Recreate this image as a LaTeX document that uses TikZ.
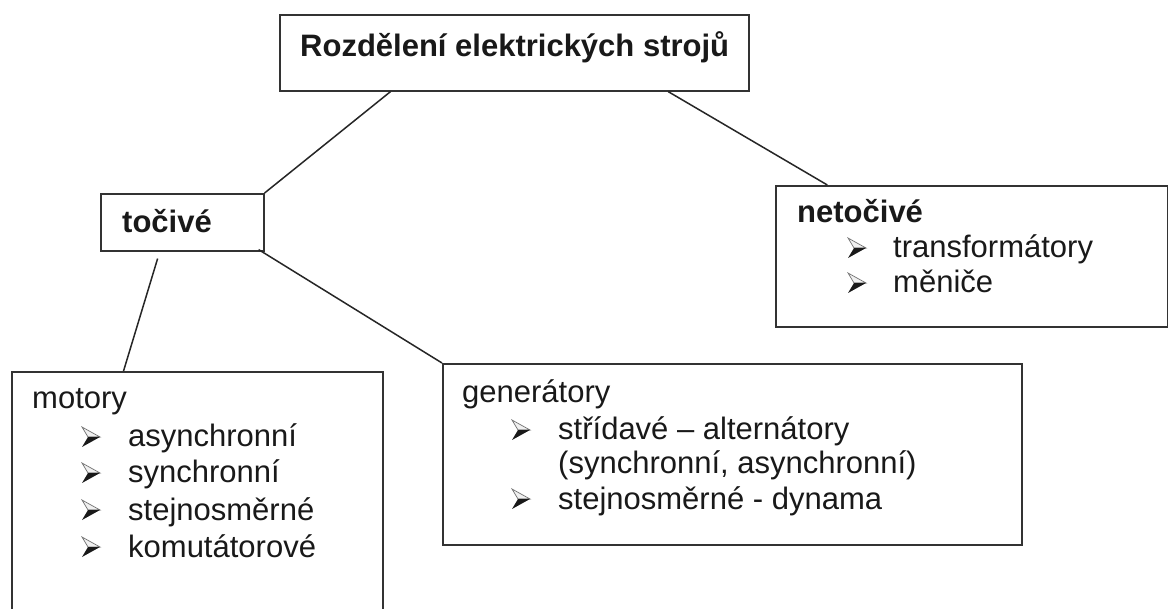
\documentclass[tikz,border=0pt]{standalone}
\usepackage{fontspec}
\setmainfont{Liberation Sans}
\usetikzlibrary{calc}
\begin{document}
\begin{tikzpicture}[x=1pt,y=-1pt,
  box/.style={draw=black!80,line width=1.6pt,inner sep=0pt,anchor=north west,fill=white},
  conn/.style={draw=black!85,line width=1.5pt},
  txt/.style={inner sep=0pt,anchor=base west,font=\fontsize{31}{36}\selectfont,text=black!90},
  btxt/.style={txt,font=\fontsize{31}{36}\selectfont\bfseries},
  bularr/.pic={
    \draw[black!55,line width=0.7pt,fill=black!6,line join=miter] (0,-20) -- (18,-10) -- (6,-10) -- cycle;
    \fill[black!90] (0,0) -- (18,-10) -- (6,-10) -- cycle;
  }]
\clip (0,0) rectangle (1168,609);
\fill[white] (0,0) rectangle (1168,609);
% boxes
\node[box,minimum width=469pt,minimum height=76pt] (top) at (279,14) {};
\node[box,minimum width=163pt,minimum height=57pt] (toc) at (100,193) {};
\node[box,minimum width=392pt,minimum height=141pt] (net) at (775,185) {};
\node[box,minimum width=371pt,minimum height=300pt] (mot) at (11,371) {};
\node[box,minimum width=579pt,minimum height=181pt] (gen) at (442,363) {};
% connector end points
\coordinate (t1) at ($(top.south west)!0.237!(top.south east)$);
\coordinate (t2) at ($(top.south west)!0.827!(top.south east)$);
\coordinate (n1) at ($(net.north west)!0.133!(net.north east)$);
\coordinate (c1) at ($(toc.south west)!0.35!(toc.south east)+(0,7)$);
\coordinate (c2) at ($(toc.south east)+(-6,-2)$);
\coordinate (m1) at ($(mot.north west)!0.302!(mot.north east)$);
\draw[conn] (t1) -- (toc.north east);
\draw[conn] (t2) -- (n1);
\draw[conn] (c1) -- (m1);
\draw[conn] (c2) -- (gen.north west);
% texts
\node[btxt] (ttop) at (300,57) {Rozdělení elektrických strojů};
\node[btxt] (ttoc) at (122,233) {točivé};
\node[btxt] (tnet) at (797,223) {netočivé};
\pic at (848,258) {bularr};
\node[txt] (tn1) at (893,258) {transformátory};
\pic at (848,293) {bularr};
\node[txt] (tn2) at (893,293) {měniče};
\node[txt] (tmot) at (32,409) {motory};
\pic at (82,447) {bularr};
\node[txt] (tm1) at (128,447) {asynchronní};
\pic at (82,483) {bularr};
\node[txt] (tm2) at (128,483) {synchronní};
\pic at (82,520) {bularr};
\node[txt] (tm3) at (128,520) {stejnosměrné};
\pic at (82,557) {bularr};
\node[txt] (tm4) at (128,557) {komutátorové};
\node[txt] (tgen) at (462,403) {generátory};
\pic at (512,440) {bularr};
\node[txt] (tg1) at (558,440) {střídavé – alternátory};
\node[txt] (tg1b) at (558,474) {(synchronní, asynchronní)};
\pic at (512,509) {bularr};
\node[txt] (tg2) at (558,509) {stejnosměrné - dynama};
\end{tikzpicture}
\end{document}
